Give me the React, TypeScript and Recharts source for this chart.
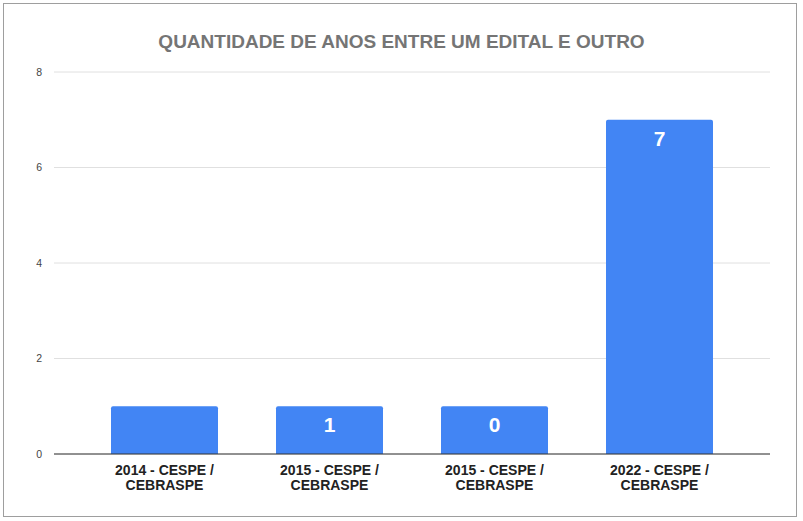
import React from "react";
import { BarChart, Bar, XAxis, YAxis, CartesianGrid, LabelList } from "recharts";

const categories = [
  "2014 - CESPE / CEBRASPE",
  "2015 - CESPE / CEBRASPE",
  "2015 - CESPE / CEBRASPE",
  "2022 - CESPE / CEBRASPE",
];
const values = [1, 1, 1, 7];
const barLabels = ["", "1", "0", "7"];
const yTicks = [0, 2, 4, 6, 8];
const title = "QUANTIDADE DE ANOS ENTRE UM EDITAL E OUTRO";

const data = categories.map((c, i) => ({ idx: i, name: c, value: values[i], label: barLabels[i] }));

const FONT = "Arial, 'Liberation Sans', sans-serif";

const CatTick = (props: any) => {
  const { x, y, payload } = props;
  const name = categories[payload.value] ?? "";
  const cut = name.indexOf("/ ");
  const l1 = cut >= 0 ? name.slice(0, cut + 1) : name;
  const l2 = cut >= 0 ? name.slice(cut + 2) : "";
  return (
    <text x={x} y={y} textAnchor="middle" fill="#222" fontFamily={FONT} fontSize={14} fontWeight="bold">
      <tspan x={x} dy={12.5}>{l1}</tspan>
      <tspan x={x} dy={15}>{l2}</tspan>
    </text>
  );
};

export default function App() {
  return (
    <div style={{ position: "absolute", left: 0, top: 0, width: 803, height: 521, background: "#fff" }}>
      <div
        style={{
          position: "absolute",
          left: 3,
          top: 3,
          width: 792,
          height: 512,
          border: "1px solid #9e9e9e",
        }}
      />
      <div
        style={{
          position: "absolute",
          left: 0,
          top: 31,
          width: 803,
          textAlign: "center",
          fontFamily: FONT,
          fontWeight: "bold",
          fontSize: 19,
          color: "#757575",
        }}
      >
        {title}
      </div>
      <div style={{ position: "absolute", left: 0, top: 0 }}>
        <BarChart width={803} height={521} data={data} margin={{ top: 72, right: 33, bottom: 37, left: 24 }}>
          <CartesianGrid vertical={false} stroke="#e0e0e0" />
          <XAxis
            dataKey="idx"
            type="category"
            height={30}
            axisLine={{ stroke: "#333" }}
            tickLine={false}
            tick={<CatTick />}
            padding={{ left: 28, right: 28 }}
            interval={0}
          />
          <YAxis
            width={30}
            domain={[0, 8]}
            ticks={yTicks}
            axisLine={false}
            tickLine={false}
            tickMargin={6}
            tick={{ fill: "#444", fontSize: 10.5, fontFamily: FONT }}
          />
          <Bar dataKey="value" fill="#4285f4" barSize={107} radius={[2, 2, 0, 0]} isAnimationActive={false}>
            <LabelList
              dataKey="label"
              position="insideTop"
              offset={11}
              fill="#fff"
              fontSize={21}
              fontWeight="bold"
              fontFamily={FONT}
            />
          </Bar>
        </BarChart>
      </div>
    </div>
  );
}
